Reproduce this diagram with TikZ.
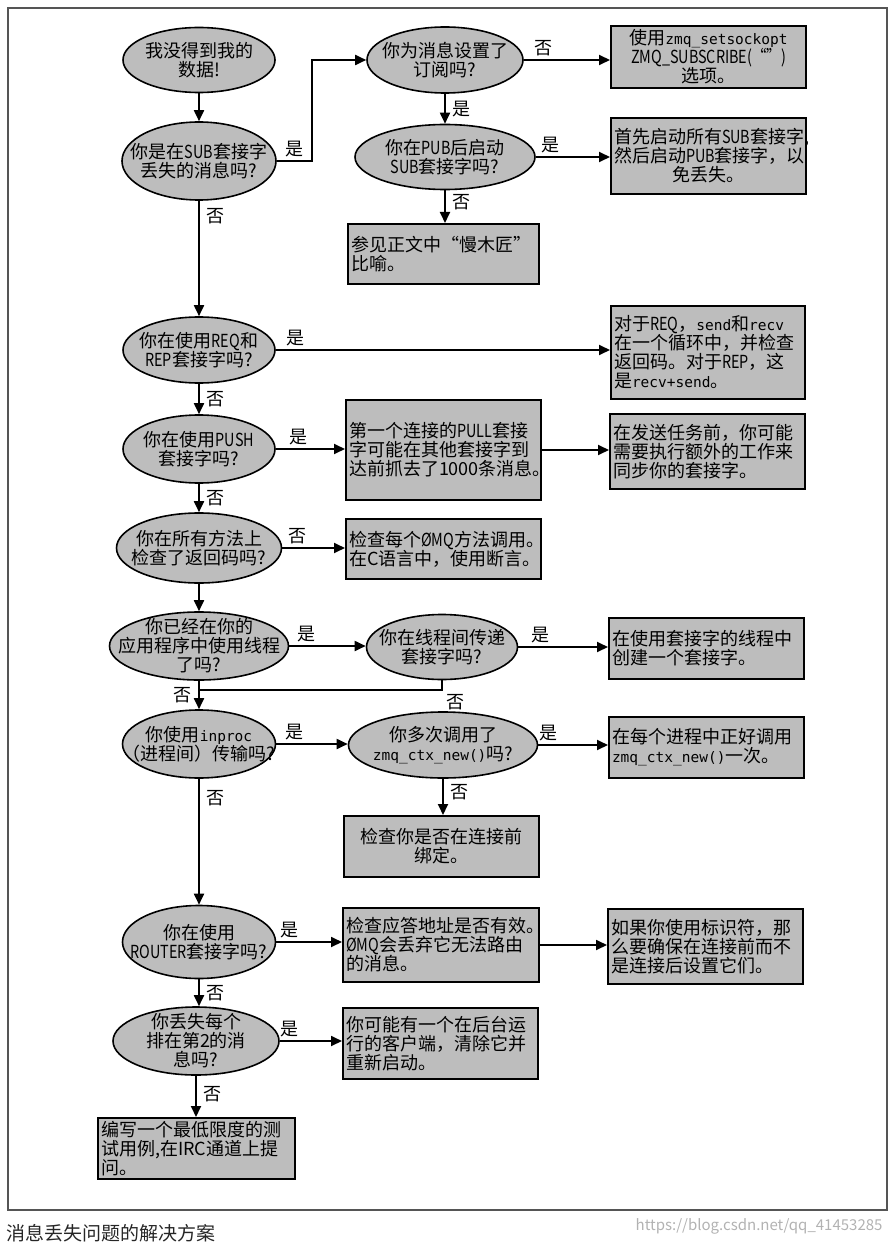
\documentclass[tikz,border=0pt]{standalone}
\usepackage{fontspec}
\setmainfont{Noto Sans CJK SC}
\setmonofont{DejaVu Sans Mono}
\usetikzlibrary{arrows.meta,shapes.geometric,positioning}
\definecolor{cFill}{HTML}{BDBDBD}
\definecolor{cFrame}{HTML}{555555}
\newcommand{\zc}[1]{{\ttfamily\fontsize{14.5}{19}\selectfont #1}}
\newcommand{\nw}[1]{\scalebox{0.8}[1]{#1}}
\tikzset{
  ques/.style={ellipse, draw, fill=cFill, line width=1.6pt, inner sep=0pt},
  qtxt/.style={align=center, inner sep=0pt},
  ans/.style={rectangle, draw, fill=cFill, line width=2pt, inner sep=3pt, anchor=north west, align=left},
  flow/.style={->, line width=1.8pt},
}

\begin{document}
\begin{tikzpicture}[x=1pt, y=-1pt, font=\fontsize{18}{19}\selectfont, >={Triangle[length=11pt,width=10pt]}]
\useasboundingbox (0,0) rectangle (894,1246);
\draw[cFrame, line width=1.2pt] (8,8) rectangle (887,1210);

% questions, main column
\node[ques, minimum width=152pt, minimum height=65pt, label={[qtxt]center:{我没得到我的\\数据!}}] (lost) at (199,60) {};
\node[ques, minimum width=154pt, minimum height=78pt, label={[qtxt]center:{你是在\nw{SUB}套接字\\丢失的消息吗?}}] (subloss) at (199,161) {};
\node[ques, minimum width=152pt, minimum height=66pt, label={[qtxt]center:{你在使用\nw{REQ}和\\\nw{REP}套接字吗?}}] (reqrep) at (199,350) {};
\node[ques, minimum width=152pt, minimum height=68pt, label={[qtxt]center:{你在使用\nw{PUSH}\\套接字吗?}}] (push) at (199,449) {};
\node[ques, minimum width=165pt, minimum height=70pt, label={[qtxt]center:{你在所有方法上\\检查了返回码吗?}}] (retcode) at (199,548) {};
\node[ques, minimum width=179pt, minimum height=68pt, label={[qtxt]center:{你已经在你的\\应用程序中使用线程\\了吗?}}] (threads) at (199,646) {};
\node[ques, minimum width=153pt, minimum height=68pt, label={[qtxt]center:{你使用\zc{inproc}\\（进程间）传输吗?}}] (inproc) at (199,744) {};
\node[ques, minimum width=153pt, minimum height=73pt, label={[qtxt]center:{你在使用\\\nw{ROUTER}套接字吗?}}] (router) at (199,942) {};
\node[ques, minimum width=166pt, minimum height=68pt, label={[qtxt]center:{你丢失每个\\排在第2的消\\息吗?}}] (second) at (196,1041) {};

% questions, second column
\node[ques, minimum width=156pt, minimum height=66pt, label={[qtxt]center:{你为消息设置了\\订阅吗?}}] (subset) at (445,60) {};
\node[ques, minimum width=180pt, minimum height=65pt, label={[qtxt]center:{你在\nw{PUB}后启动\\\nw{SUB}套接字吗?}}] (pubfirst) at (445,157) {};
\node[ques, minimum width=151pt, minimum height=65pt, label={[qtxt]center:{你在线程间传递\\套接字吗?}}] (passsock) at (442,647) {};
\node[ques, minimum width=189pt, minimum height=66pt, label={[qtxt]center:{你多次调用了\\\zc{zmq\_ctx\_new()}吗?}}] (ctxnew) at (443,745) {};

% answers
\node[ans, align=center, text width=189pt, minimum height=62pt] (subopt) at (610,25) {使用\zc{zmq\_setsockopt}\\\nw{ZMQ\_SUBSCRIBE(“”)}\\选项。};
\node[ans, align=center, text width=189pt, minimum height=76pt] (startfirst) at (610,117) {首先启动所有\nw{SUB}套接字,\\然后启动\nw{PUB}套接字，以\\免丢失。};
\node[ans, text width=185pt, minimum height=60pt] (slowjoiner) at (347,223) {参见正文中“慢木匠”\\比喻。};
\node[ans, text width=188pt, minimum height=93pt] (reqfix) at (610,305) {对于\nw{REQ}，\zc{send}和\zc{recv}\\在一个循环中，并检查\\返回码。对于\nw{REP}，这\\是\zc{recv+send}。};
\node[ans, text width=189pt, minimum height=100pt] (pullfirst) at (345,399) {第一个连接的\nw{PULL}套接\\字可能在其他套接字到\\达前抓去了1000条消息。};
\node[ans, text width=189pt, minimum height=75pt] (syncsock) at (609,413) {在发送任务前，你可能\\需要执行额外的工作来\\同步你的套接字。};
\node[ans, text width=189pt, minimum height=60pt] (checkrc) at (345,518) {检查每个\nw{ØMQ}方法调用。\\在C语言中，使用断言。};
\node[ans, text width=189pt, minimum height=61pt] (sockthread) at (608,617) {在使用套接字的线程中\\创建一个套接字。};
\node[ans, text width=189pt, minimum height=61pt] (onectx) at (608,716) {在每个进程中正好调用\\\zc{zmq\_ctx\_new()}一次。};
\node[ans, align=center, text width=189pt, minimum height=61pt] (bindfirst) at (343,815) {检查你是否在连接前\\绑定。};
\node[ans, text width=190pt, minimum height=74pt] (routeraddr) at (342,907) {检查应答地址是否有效。\\\nw{ØMQ}会丢弃它无法路由\\的消息。};
\node[ans, text width=189pt, minimum height=75pt] (identity) at (607,908) {如果你使用标识符，那\\么要确保在连接前而不\\是连接后设置它们。};
\node[ans, text width=189pt, minimum height=71pt] (bgclient) at (342,1007) {你可能有一个在后台运\\行的客户端，清除它并\\重新启动。};
\node[ans, text width=191pt, minimum height=60pt] (testcase) at (97,1117) {编写一个最低限度的测\\试用例,在IRC通道上提\\问。};

% connectors
\draw[flow] (lost) -- (subloss);
\path (subloss.east) ++(35,0) coordinate (bendA);
\draw[flow] (subloss.east) -- (bendA) node[midway, above] {是} |- (subset.west);
\draw[flow] (subset.east) -- (subset.east -| subopt.west) node[pos=0.23, above] {否};
\draw[flow] (subset) -- (pubfirst) node[midway, right=3pt] {是};
\draw[flow] (pubfirst.east) -- (pubfirst.east -| startfirst.west) node[pos=0.2, above] {是};
\draw[flow] (pubfirst.south) -- (pubfirst.south |- slowjoiner.north) node[pos=0.35, right=3pt] {否};
\draw[flow] (subloss) -- (reqrep) node[pos=0.13, right=3pt] {否};
\draw[flow] (reqrep.east) -- (reqrep.east -| reqfix.west) node[pos=0.06, above] {是};
\draw[flow] (reqrep) -- (push) node[midway, right=3pt] {否};
\draw[flow] (push.east) -- (push.east -| pullfirst.west) node[pos=0.33, above] {是};
\draw[flow] (pullfirst.east) -- (pullfirst.east -| syncsock.west);
\draw[flow] (push) -- (retcode) node[midway, right=3pt] {否};
\draw[flow] (retcode.east) -- (retcode.east -| checkrc.west) node[pos=0.25, above] {否};
\draw[flow] (retcode) -- (threads);
\draw[flow] (threads.east) -- (threads.east -| passsock.west) node[pos=0.22, above] {是};
\draw[flow] (passsock.east) -- (passsock.east -| sockthread.west) node[pos=0.25, above] {是};
\path (threads.south) ++(0,9) coordinate (merge);
\draw[line width=1.8pt] (passsock.south) |- (merge) node[pos=0.5, below right] {否};
\draw[flow] (threads) -- (inproc) node[midway, left=3pt] {否};
\draw[flow] (inproc.east) -- (inproc.east -| ctxnew.west) node[pos=0.26, above] {是};
\draw[flow] (ctxnew.east) -- (ctxnew.east -| onectx.west) node[pos=0.15, above] {是};
\draw[flow] (ctxnew.south) -- (ctxnew.south |- bindfirst.north) node[pos=0.38, right=3pt] {否};
\draw[flow] (inproc) -- (router) node[pos=0.15, right=3pt] {否};
\draw[flow] (router.east) -- (router.east -| routeraddr.west) node[pos=0.2, above] {是};
\draw[flow] (routeraddr.east) -- (routeraddr.east -| identity.west);
\draw[flow] (router.south) -- (router.south |- second.north) node[midway, right=3pt] {否};
\draw[flow] (second.east) -- (second.east -| bgclient.west) node[pos=0.15, above] {是};
\draw[flow] (second.south) -- (second.south |- testcase.north) node[pos=0.45, right=3pt] {否};

% caption and mark
\node[anchor=west, text=black!85, font=\fontsize{19}{19}\selectfont] (caption) at (3,1233) {消息丢失问题的解决方案};
\node[anchor=east, text=black!30, font=\fontsize{15}{15}\selectfont] (wmark) at (886,1226) {https://blog.csdn.net/qq\_41453285};
\end{tikzpicture}
\end{document}
